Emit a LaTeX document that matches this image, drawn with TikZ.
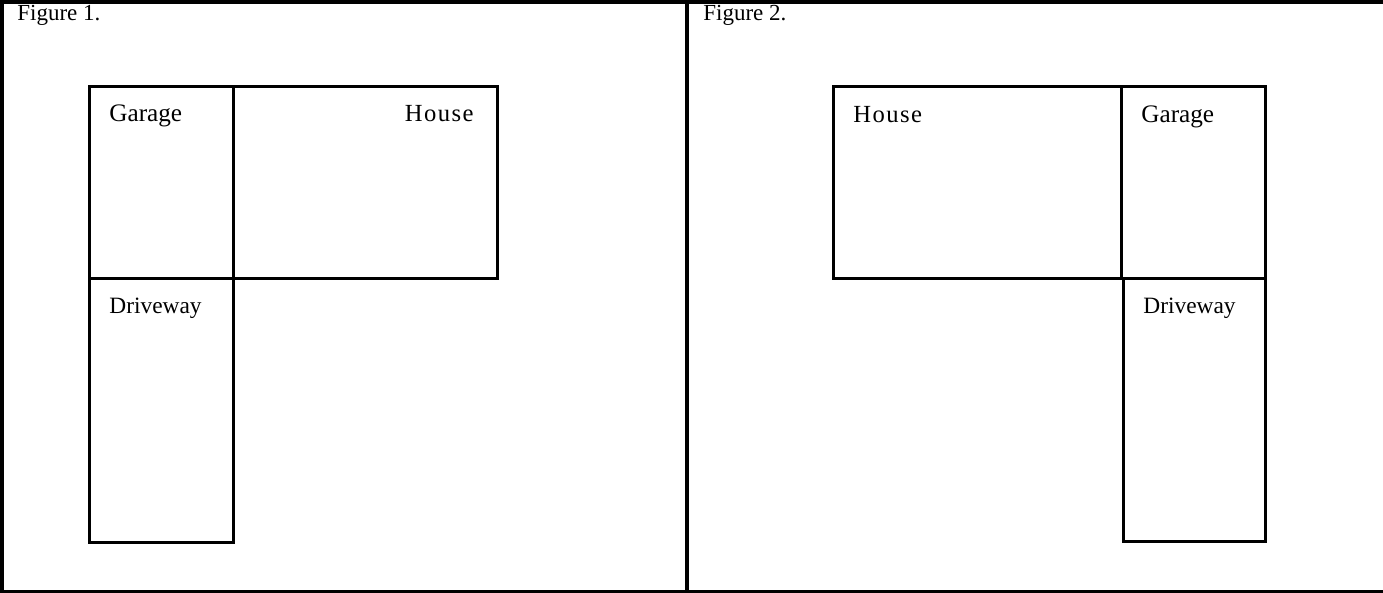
\documentclass[tikz,border=0pt]{standalone}
\usepackage{fontspec}
\setmainfont{Liberation Serif}
\newfontfamily\widefont[LetterSpace=6]{Liberation Serif}
\usepackage{tikz}
\usetikzlibrary{positioning}

\begin{document}
\begin{tikzpicture}[
    x=0.5pt, y=-0.5pt,
    frame/.style={line width=1.7pt},
    lot/.style={line width=1.5pt},
    caption/.style={anchor=base west, inner sep=0pt, font=\fontsize{11.5}{13}\selectfont},
    label/.style={anchor=base west, inner sep=0pt, font=\fontsize{12.6}{14}\selectfont},
    drive/.style={anchor=base west, inner sep=0pt, font=\fontsize{11.7}{14}\selectfont},
    house/.style={inner sep=0pt, font=\widefont\fontsize{12.3}{14}\selectfont}
]
\useasboundingbox (0,0) rectangle (1383,593);

% outer frame
\draw[frame] (1383,2) -- (2,2) -- (2,591.5) -- (1383,591.5);
\draw[frame] (687,2) -- (687,591.5);

% Figure 1
\node[caption] (capA) at (17,21) {Figure 1.};
\draw[lot] (89,87) rectangle (233,279);
\draw[lot] (233,87) rectangle (497,279);
\draw[lot] (89,279) rectangle (233,542.5);
\node[label] (garageA) at (109,122) {Garage};
\node[house, anchor=base east] (houseA) at (474,122) {House};
\node[drive] (driveA) at (109,314) {Driveway};

% Figure 2
\node[caption] (capB) at (703,21) {Figure 2.};
\draw[lot] (833,87) rectangle (1121,279);
\draw[lot] (1121,87) rectangle (1265,279);
\draw[lot] (1123,279) rectangle (1265,541.5);
\node[house, anchor=base west] (houseB) at (853,123) {House};
\node[label] (garageB) at (1141,123) {Garage};
\node[drive] (driveB) at (1143,314) {Driveway};

\end{tikzpicture}
\end{document}
